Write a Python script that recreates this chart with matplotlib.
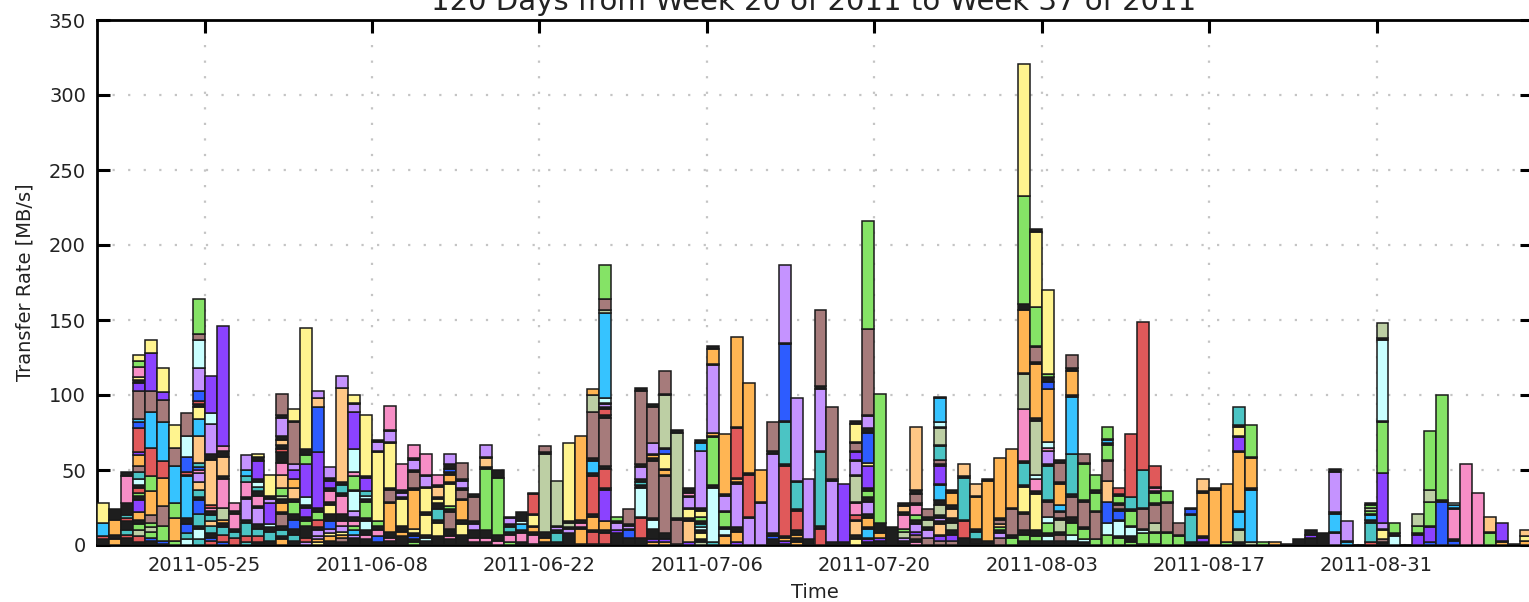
import datetime
import numpy as np
import matplotlib
matplotlib.use("Agg")
import matplotlib.pyplot as plt
import matplotlib.dates as mdates

# colour codes used in the stacks below
palette = {
    "Y": "#FFF48F", "G": "#85E366", "P": "#F78EC6", "L": "#C593FF",
    "V": "#8B42FF", "B": "#2D5CFF", "S": "#36C3FF", "T": "#4BC4C4",
    "C": "#C9FFFF", "R": "#E0595A", "O": "#FFB553", "F": "#FFC785",
    "M": "#A67B7B", "A": "#BDCFA4", "K": "#1E1E1E",
}

start_day = datetime.date(2011, 5, 16)
n_days = 120
tick_days = ["2011-05-25", "2011-06-08", "2011-06-22", "2011-07-06",
             "2011-07-20", "2011-08-03", "2011-08-17", "2011-08-31"]

# one string per day, segments from the bottom up: colour code + MB/s
daily_stacks = [
    "K4 R2 S9 Y13", "O4 K3 O10 K7", "K5 R2 T3 K6 R2 T2 K8 P18 K3",
    "K2 R4 A4 G4 K3 O5 V8 K3 G2 R3 K2 C4 T5 M4 O7 V2 R16 B4 S2 M19 V5 K2 Y2 P7 G4 Y4",
    "K3 B2 G4 A3 G3 M5 O16 G10 R19 S24 M14 V25 Y9",
    "K1 B2 G10 M13 O19 R11 S26 M15 V5 Y16",
    "G3 O15 G10 S25 M12 Y15",
    "C4 T4 B6 K4 S28 K1 R2 B10 C14 M15",
    "T4 C7 K2 T8 B9 K2 T5 F5 L6 P2 B2 T3 F18 S11 Y8 K2 R2 B7 L15 C19 M4 G23",
    "R3 B2 K3 T5 F3 T4 K3 P2 R2 F30 K4 L20 C7 V25",
    "B2 R5 T5 K3 O2 A8 P19 K2 F13 K4 P3 V80",
    "R5 T4 K2 P10 K2 P5",
    "T2 R4 T9 K2 L14 K1 P10 T4 S4 L10",
    "K2 R4 T5 K3 L11 K1 P7 K3 T3 C3 K2 V12 K3 Y2",
    "K3 T6 K3 C2 V14 L3 K2 Y14",
    "O4 K2 T4 K3 M8 K1 O6 K3 A2 G5 F9 P8 K7 R2 K3 F3 K3 L12 K2 M14",
    "K3 T4 K4 B6 K4 G8 K2 F7 O6 V6 L4 M28 K1 Y8",
    "L2 R3 K8 G3 K3 V6 K2 C5 V22 G6 K4 Y81",
    "Y2 O2 L2 L4 K2 R5 G5 K3 V37 B30 F6 L5",
    "K3 O3 Y2 L3 B5 K5 Y6 K2 P7 K2 V5 K2 L7",
    "K2 M3 O2 Y2 L4 P3 K5 P12 K2 T5 K2 F63 L8",
    "K5 L2 S3 G3 P3 K3 L4 C13 K1 G9 P3 C15 V25 L5 K1 Y5",
    "K4 P3 K3 C6 K2 G11 K2 C2 T3 V9 K1 Y41",
    "K2 B4 P4 K3 G3 Y46 K1 L6 K1",
    "K3 P2 K4 O19 K1 M8 K1 Y30 K1 L7 K1 P16",
    "K6 O3 K4 Y18 K1 L3 K2 P17",
    "G2 K2 B2 K2 Y3 O26 K1 M11 K1 L7 K1 P9",
    "K3 C2 K2 Y13 K2 Y16 K1 L7 K1 P14",
    "K6 Y9 K2 T7 K4 Y3 K1 F7 K1 P7",
    "K4 P2 K5 M11 K2 G2 Y15 K1 O5 K2 B2 K3 L7",
    "K7 Y7 K3 O13 K1 M6 K1 L5 K1 M11",
    "K2 P3 K5 L4 K2 M16 K2",
    "K2 P3 K5 G41 K1 F6 K1 L8",
    "P3 K4 G38 K5",
    "G2 P5 K2 T3 K2 L4 K1",
    "K2 P6 K2 S4 C2 K6",
    "K1 P6 K2 O3 K1 Y7 K1 R13 K1",
    "K2 O3 K4 A52 K1 M4",
    "K2 T6 K2 L2 K1 A30",
    "K8 L3 K1 A3 K1 Y52",
    "K1 O10 K1 P3 K2 O56",
    "T1 R8 K1 O9 K2 R25 K2 S8 K2 M31 A11 O4",
    "K1 R7 K2 O6 V21 K1 R13 K2 M32 K2 R4 K1 L2 K1 C3 S57 A2 M7 G23",
    "K8 V2 L5 K1 G3",
    "K5 B5 K1 L2 K1 M10",
    "K5 R13 K1 C19 K2 T2 K2 L8 K2 M49 K2",
    "O2 V2 K7 C6 K1 M38 K2 O2 K1 L7 M24 K2",
    "O2 V2 K4 M38 K1 O3 K1 Y10 B3 K1 A35 K1 M15",
    "K1 M16 K1 A57 K2",
    "V2 F14 K2 Y6 K1 L7 K1 P2 K3",
    "A2 K2 Y4 K2 C2 T2 K2 G3 Y4 K2 L38 S5 K2",
    "T2 C36 K2 G32 K1 O2 L45 K1 O10 K2",
    "O6 K1 C4 K1 G10 K1 L10 K1 O40",
    "V2 O7 K3 L29 K1 O2 K1 R33 K1 O60",
    "L18 K1 R28 K1 O60",
    "L28 K1 O21",
    "K4 B2 K2 L53 K2 M19",
    "K1 V2 O2 K1 R47 K1 T28 K1 B51 K1 L52",
    "O2 K3 O2 K3 R13 K1 T18 K1 L55",
    "K4 L40",
    "R11 K2 T49 K1 L41 K2 M51",
    "K2 L41 K1 M48",
    "K2 V39",
    "Y4 K3 F9 K1 R3 P8 K1 A17 K1 L9 K1 V5 K1 M5 K1 Y12 K2",
    "K2 V2 K1 S6 K1 O6 K3 L8 K3 G4 K2 V15 Y2 B20 K3 L8 K1 M57 G72",
    "K3 V2 O3 K7 G86",
    "K12",
    "P1 K2 L2 A4 G2 P9 K2 F4 K2",
    "P2 K2 M3 V2 L5 K3 G3 P7 K1 M6 K3 F42",
    "M5 L5 K2 A5 K2 M5",
    "M3 V3 K1 F7 K2 L2 K2 A7 K3 S10 K1 V12 K1 M3 T9 K1 A11 K1 C3 S16 K1",
    "M3 V4 K3 A5 K3 F6 K3 O8 K2",
    "K5 R11 K1 T28 K1 F8",
    "V1 K3 T5 K2 O21 K1 F8",
    "K3 O40 K1",
    "M5 L3 K2 G2 F2 M3 K1 O40",
    "G5 K2 M17 K1 O39",
    "K3 G4 K3 M11 K1 Y17 K1 T15 K1 P35 A23 K1 O42 K4 G72 Y88",
    "K3 G3 K4 Y24 K2 P8 C3 A36 K2 O36 K1 M10 K1 G26 Y50 K2",
    "K3 C3 K2 G7 C4 M10 K1 T23 K1 L9 P2 C4 O35 B5 K3 G2 Y56",
    "K3 M4 K2 A8 K1 M4 K1 S4 O14 K1 M13 K2",
    "K3 C4 G8 K4 M13 K2 T27 S38 K1 O16 K2 M9",
    "K2 C2 G7 K1 M17 K1 G24 K1 M6",
    "G4 M18 K1 G12 K2 G10",
    "G7 C8 B14 F14 M13 K1 G10 K1 S2 K1 G8",
    "G5 K1 C10 K1 B6 K1 M3 K1 G5 K1 R4",
    "G2 K4 C6 K1 G10 K1 T8 R42",
    "K1 G7 C2 K1 M13 K1 T25 R99",
    "K1 G7 K1 A6 M12 K1 G7 K1 P2 K1 R14",
    "G8 K1 M19 K1 G7",
    "G6 K1 M8",
    "K2 T18 K1 B3 K1",
    "K2 V3 K1 O29 K1 F8",
    "O37 K1",
    "G2 O39",
    "K2 A8 K1 S11 K1 O39 K1 V9 K1 Y6 K1 T12",
    "A2 S35 K1 O20 K1 G21",
    "G2", "O2", "K0.5", "K4", "K5 V2 K3", "K8",
    "L8 K1 S12 K1 L27 K2",
    "S2 K1 L13",
    "",
    "R2 T13 K2 S3 K1 G2 A2 G2 K1",
    "K2 M2 Y6 K1 L4 V33 G34 K1 C54 K1 A10",
    "C6 K2 G7",
    "",
    "V7 K1 G5 A8",
    "B2 V10 K1 G16 A8 G39",
    "B29 K1 G70",
    "B3 K1 P20 K1 S2 C1",
    "P54", "P35", "G8 K1 F10", "O2 K1 V12", "K1", "O3 Y3 F4",
]


def parse(s):
    return [(tok[0], float(tok[1:])) for tok in s.split()]


fig = plt.figure(figsize=(15.29, 6.02), dpi=100)
ax = fig.add_axes([97 / 1529, 57 / 602, 1435 / 1529, 525 / 602])

x0 = mdates.date2num(start_day)
for i, stack in enumerate(daily_stacks):
    bottom = 0
    for code, val in parse(stack):
        ax.bar(x0 + i, val, bottom=bottom, width=1.0, align="edge",
               color=palette[code], edgecolor="#1a1a1a", linewidth=1.1, zorder=3)
        bottom += val

ax.set_xlim(x0, x0 + n_days)
ax.set_ylim(0, 350)
ax.set_yticks(np.arange(0, 351, 50))
ax.set_xticks([mdates.date2num(datetime.date.fromisoformat(d)) for d in tick_days])
ax.xaxis.set_major_formatter(mdates.DateFormatter("%Y-%m-%d"))

ax.grid(True, color="#c4c4c4", linestyle=(0, (1, 6)), linewidth=1.6)
ax.set_axisbelow(True)
ax.tick_params(direction="in", length=9, width=2.2, top=True, right=True,
               labelsize=14, pad=8, colors="black", labelcolor="#222222")
for sp in ax.spines.values():
    sp.set_linewidth(2)

ax.set_xlabel("Time", fontsize=14, color="#222222", labelpad=6)
ax.set_ylabel("Transfer Rate [MB/s]", fontsize=14, color="#222222", labelpad=10)

fig.text(814 / 1529, 592 / 602, "120 Days from Week 20 of 2011 to Week 37 of 2011",
         ha="center", va="baseline", fontsize=21, color="#222222")

fig.savefig("out.png", dpi=100)
